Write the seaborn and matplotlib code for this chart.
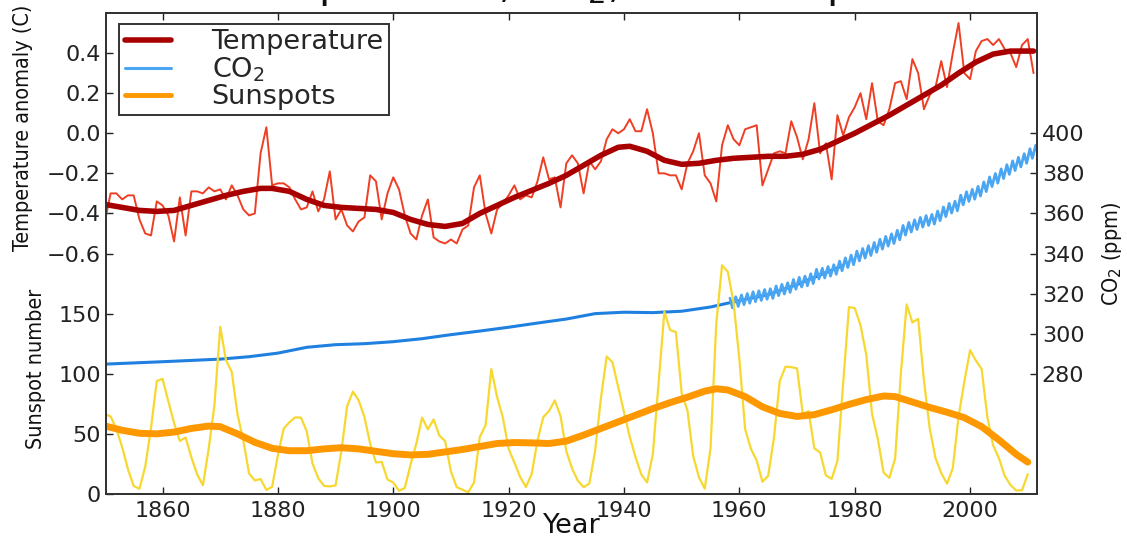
import numpy as np
import matplotlib
matplotlib.use("Agg")
import matplotlib.pyplot as plt
import seaborn as sns

# Annual global temperature anomaly (C), 1850-2011
temp_years = list(range(1850, 2012))
temp_anomaly = [
    -0.44, -0.30, -0.30, -0.33, -0.31, -0.31, -0.43, -0.50, -0.51, -0.34,
    -0.36, -0.41, -0.54, -0.32, -0.51, -0.29, -0.29, -0.30, -0.27, -0.29,
    -0.28, -0.33, -0.26, -0.31, -0.38, -0.41, -0.40, -0.10, 0.03, -0.26,
    -0.25, -0.25, -0.27, -0.33, -0.38, -0.37, -0.29, -0.39, -0.33, -0.19,
    -0.43, -0.38, -0.46, -0.49, -0.44, -0.42, -0.21, -0.24, -0.43, -0.30,
    -0.22, -0.28, -0.41, -0.50, -0.53, -0.41, -0.33, -0.52, -0.54, -0.55,
    -0.53, -0.55, -0.48, -0.46, -0.27, -0.21, -0.40, -0.50, -0.38, -0.35,
    -0.31, -0.26, -0.33, -0.31, -0.32, -0.24, -0.12, -0.23, -0.22, -0.37,
    -0.15, -0.11, -0.15, -0.30, -0.14, -0.18, -0.14, -0.03, 0.02, 0.00,
    0.02, 0.07, 0.01, 0.01, 0.12, 0.00, -0.20, -0.20, -0.21, -0.21,
    -0.28, -0.15, -0.09, 0.00, -0.21, -0.25, -0.34, -0.06, 0.04, -0.03,
    -0.06, 0.02, 0.03, 0.04, -0.26, -0.18, -0.10, -0.09, -0.10, 0.06,
    -0.02, -0.13, -0.03, 0.15, -0.10, -0.05, -0.23, 0.09, -0.01, 0.08,
    0.13, 0.20, 0.07, 0.25, 0.06, 0.04, 0.12, 0.25, 0.26, 0.17,
    0.37, 0.30, 0.12, 0.19, 0.23, 0.36, 0.23, 0.40, 0.55, 0.30,
    0.27, 0.41, 0.46, 0.47, 0.44, 0.47, 0.42, 0.40, 0.33, 0.44,
    0.47, 0.30,
]

# Smoothed temperature curve
temp_smooth_years = [
    1850, 1853, 1856, 1859, 1862, 1865, 1868, 1871, 1874, 1877, 1879, 1882,
    1885, 1888, 1891, 1894, 1897, 1900, 1903, 1906, 1909, 1912, 1915, 1918,
    1921, 1924, 1927, 1930, 1933, 1936, 1939, 1941, 1944, 1947, 1950, 1953,
    1956, 1959, 1962, 1965, 1968, 1971, 1974, 1977, 1980, 1983, 1986, 1989,
    1992, 1995, 1998, 2001, 2004, 2007, 2011,
]
temp_smooth = [
    -0.355, -0.37, -0.385, -0.39, -0.385, -0.36, -0.335, -0.31, -0.29, -0.275, -0.275, -0.29,
    -0.33, -0.36, -0.37, -0.375, -0.38, -0.395, -0.43, -0.455, -0.465, -0.45, -0.40, -0.36,
    -0.32, -0.285, -0.25, -0.21, -0.16, -0.11, -0.07, -0.065, -0.09, -0.135, -0.155, -0.15,
    -0.135, -0.125, -0.12, -0.115, -0.115, -0.105, -0.08, -0.04, 0.00, 0.045, 0.09, 0.14,
    0.19, 0.24, 0.30, 0.355, 0.395, 0.41, 0.41,
]

# Ice-core CO2 (ppm)
co2_ice_years = [
    1850, 1860, 1870, 1875, 1880, 1885, 1890, 1895, 1900, 1905, 1910, 1915,
    1920, 1925, 1930, 1935, 1940, 1945, 1950, 1955, 1960, 1965, 1970, 1975, 1978,
]
co2_ice = [
    284.8, 286.0, 287.3, 288.5, 290.3, 293.2, 294.5, 295.0, 296.0, 297.5, 299.5, 301.3,
    303.2, 305.3, 307.3, 310.0, 310.7, 310.5, 311.2, 313.3, 316.5, 319.5, 324.5, 330.5, 334.0,
]

# Mauna Loa CO2, yearly spring high and autumn low (ppm), 1958-2011
mlo_years = list(range(1958, 2012))
mlo_high = [
    317.7, 318.4, 319.3, 320.0, 320.9, 321.4, 322.0, 322.4, 323.8, 324.6,
    325.4, 327.0, 328.1, 328.7, 329.9, 332.1, 332.6, 333.5, 334.4, 336.2,
    337.8, 339.2, 341.2, 342.5, 343.9, 345.5, 347.1, 348.5, 349.8, 351.6,
    354.0, 355.5, 356.8, 358.0, 358.9, 359.5, 361.2, 363.2, 365.0, 366.1,
    369.1, 370.8, 372.0, 373.5, 375.7, 378.2, 379.9, 382.2, 384.3, 386.2,
    388.0, 389.8, 392.3, 394.0,
]
mlo_low = [
    312.9, 313.6, 314.5, 315.2, 316.0, 316.6, 317.2, 317.6, 319.0, 319.8,
    320.6, 322.2, 323.3, 323.9, 325.0, 327.3, 327.8, 328.7, 329.6, 331.4,
    333.0, 334.4, 336.3, 337.7, 339.0, 340.6, 342.2, 343.7, 345.0, 346.8,
    349.2, 350.7, 352.0, 353.2, 354.0, 354.7, 356.4, 358.4, 360.2, 361.3,
    364.3, 366.0, 367.1, 368.7, 370.9, 373.4, 375.1, 377.4, 379.5, 381.4,
    383.2, 385.0, 387.5, 389.3,
]

# Yearly sunspot number, 1849-2010
sun_years = list(range(1849, 2011))
sunspots = [
    95.8,
    66.6, 64.5, 54.1, 39.0, 20.6, 6.7, 4.3, 22.7, 54.8, 93.8,
    95.8, 77.2, 59.1, 44.0, 47.0, 30.5, 16.3, 7.3, 37.6, 74.0,
    139.0, 111.2, 101.6, 66.2, 44.7, 17.0, 11.3, 12.4, 3.4, 6.0,
    32.3, 54.3, 59.7, 63.7, 63.5, 52.2, 25.4, 13.1, 6.8, 6.3,
    7.1, 35.6, 73.0, 85.1, 78.0, 64.0, 41.8, 26.2, 26.7, 12.1,
    9.5, 2.7, 5.0, 24.4, 42.0, 63.5, 53.8, 62.0, 48.5, 43.9,
    18.6, 5.7, 3.6, 1.4, 9.6, 47.4, 57.1, 103.9, 80.6, 63.6,
    37.6, 26.1, 14.2, 5.8, 16.7, 44.3, 63.9, 69.0, 77.8, 64.9,
    35.7, 21.2, 11.1, 5.7, 8.7, 36.1, 79.7, 114.4, 109.6, 88.8,
    67.8, 47.5, 30.6, 16.3, 9.6, 33.2, 92.6, 151.6, 136.3, 134.7,
    83.9, 69.4, 31.5, 13.9, 4.4, 38.0, 141.7, 190.2, 184.8, 159.0,
    112.3, 53.9, 37.6, 27.9, 10.2, 15.1, 47.0, 93.8, 105.9, 105.5,
    104.5, 66.6, 68.9, 38.0, 34.5, 15.5, 12.6, 27.5, 92.5, 155.4,
    154.6, 140.4, 115.9, 66.6, 45.9, 17.9, 13.4, 29.4, 100.2, 157.6,
    142.6, 145.7, 94.3, 54.6, 29.9, 17.5, 8.6, 21.5, 64.3, 93.3,
    119.6, 111.0, 104.0, 63.7, 40.4, 29.8, 15.2, 7.5, 2.9, 3.1,
    16.5,
]

# Smoothed sunspot curve
sun_smooth_years = [
    1850, 1853, 1856, 1859, 1862, 1865, 1868, 1870, 1873, 1876, 1879, 1882,
    1885, 1888, 1891, 1894, 1897, 1900, 1903, 1906, 1909, 1912, 1915, 1918,
    1921, 1924, 1927, 1930, 1933, 1936, 1939, 1942, 1945, 1948, 1951, 1954,
    1956, 1958, 1961, 1964, 1967, 1970, 1973, 1976, 1979, 1982, 1985, 1987,
    1990, 1993, 1996, 1999, 2002, 2005, 2008, 2010,
]
sun_smooth = [
    56.6, 53.0, 50.5, 50.0, 51.5, 54.5, 56.5, 56.0, 50.0, 43.0, 38.0, 36.0,
    36.0, 37.5, 38.5, 37.5, 35.5, 33.5, 32.5, 33.0, 35.0, 37.0, 39.5, 42.0,
    42.8, 42.5, 42.0, 44.0, 49.0, 54.5, 60.0, 65.5, 71.0, 76.0, 80.5, 85.5,
    87.5, 86.5, 81.0, 72.5, 67.0, 64.5, 66.0, 70.0, 74.5, 78.5, 81.5, 81.0,
    76.5, 72.0, 68.0, 63.5, 56.0, 45.0, 33.0, 26.5,
]

sns.set_style("ticks")
plt.rcParams["font.family"] = ["DejaVu Sans"]
plt.rcParams["mathtext.fontset"] = "dejavusans"

fig = plt.figure(figsize=(11.27, 5.37), dpi=100)
ax_t = fig.add_axes([106 / 1127, 1 - 494 / 537, 931 / 1127, 481 / 537])
ax_c = ax_t.twinx()
ax_s = ax_t.twinx()

red_raw = "#ee3f24"
red_smooth = "#a80000"
blue_ice = "#1f80e0"
blue_mlo = "#4aa6f2"
yellow = "#f7d830"
orange = "#fd9800"

# CO2
sns.lineplot(x=co2_ice_years, y=co2_ice, ax=ax_c, color=blue_ice, linewidth=2.2)
mlo_x, mlo_y = [], []
for yr, hi, lo in zip(mlo_years, mlo_high, mlo_low):
    mlo_x += [yr + 0.38, yr + 0.8]
    mlo_y += [hi, lo]
sns.lineplot(x=mlo_x, y=mlo_y, ax=ax_c, color=blue_mlo, linewidth=2.0, sort=False)

# Sunspots
sns.lineplot(x=sun_years, y=sunspots, ax=ax_s, color=yellow, linewidth=1.6)
sns.lineplot(x=sun_smooth_years, y=sun_smooth, ax=ax_s, color=orange, linewidth=5)

# Temperature
sns.lineplot(x=temp_years, y=temp_anomaly, ax=ax_t, color=red_raw, linewidth=1.4)
sns.lineplot(x=temp_smooth_years, y=temp_smooth, ax=ax_t, color=red_smooth, linewidth=4)

ax_t.set_zorder(3)
ax_t.patch.set_visible(False)
ax_s.set_zorder(2)
ax_c.set_zorder(1)

xlim = (1850.2, 2011.6)
for ax in (ax_t, ax_c, ax_s):
    ax.set_xlim(*xlim)

ax_t.set_ylim(-1.8, 0.6)
ax_t.set_yticks([-0.6, -0.4, -0.2, 0.0, 0.2, 0.4])
ax_c.set_ylim(220, 460)
ax_c.set_yticks([280, 300, 320, 340, 360, 380, 400])
ax_s.set_ylim(0, 400)
ax_s.set_yticks([0, 50, 100, 150])
ax_s.yaxis.tick_left()
ax_s.yaxis.set_label_position("left")

tick_fs = 16
ax_t.set_xticks([1860, 1880, 1900, 1920, 1940, 1960, 1980, 2000])
ax_t.tick_params(axis="x", which="both", direction="in", top=True, bottom=True,
                 length=5, width=1, labelsize=tick_fs, pad=5, colors="#222222")
for ax in (ax_t, ax_c, ax_s):
    ax.tick_params(axis="y", direction="in", length=5, width=1, labelsize=tick_fs,
                   colors="#222222")
ax_c.tick_params(axis="x", which="both", bottom=False, top=False, labelbottom=False)
ax_s.tick_params(axis="x", which="both", bottom=False, top=False, labelbottom=False)

for ax in (ax_t, ax_c, ax_s):
    for sp in ax.spines.values():
        sp.set_visible(True)
        sp.set_linewidth(1.4)
        sp.set_color("#333333")

lab = dict(fontsize=15.5, fontstretch="condensed", color="#111111")
ax_t.set_ylabel("Temperature anomaly (C)", **lab)
ax_t.yaxis.set_label_coords(-0.078, 0.762)
ax_s.set_ylabel("Sunspot number", **lab)
ax_s.yaxis.set_label_coords(-0.064, 0.26)
ax_c.set_ylabel("CO$_2$ (ppm)", rotation=90, **lab)
ax_c.yaxis.set_label_coords(1.068, 0.50)
ax_t.set_xlabel("Year", fontsize=19.5, color="#111111")
ax_t.xaxis.set_label_coords(0.500, -0.040)

fig.text(0.507, 1 + 2.5 / 537, "Temperature, CO$_2$, and Sunspots",
         ha="center", va="baseline", fontsize=30, color="#111111")

handles = [
    plt.Line2D([], [], color=red_smooth, linewidth=4),
    plt.Line2D([], [], color=blue_mlo, linewidth=2.2),
    plt.Line2D([], [], color=orange, linewidth=3.5),
]
leg = ax_t.legend(handles, ["Temperature", "CO$_2$", "Sunspots"], loc="upper left",
                  bbox_to_anchor=(0.0145, 0.977), fontsize=19.5, handlelength=1.7,
                  handletextpad=1.5, labelspacing=0.0, borderpad=0.2,
                  frameon=True, fancybox=False, framealpha=1, borderaxespad=0)
leg.get_frame().set_edgecolor("#333333")
leg.get_frame().set_linewidth(1.4)

fig.savefig("out.png", dpi=100)
